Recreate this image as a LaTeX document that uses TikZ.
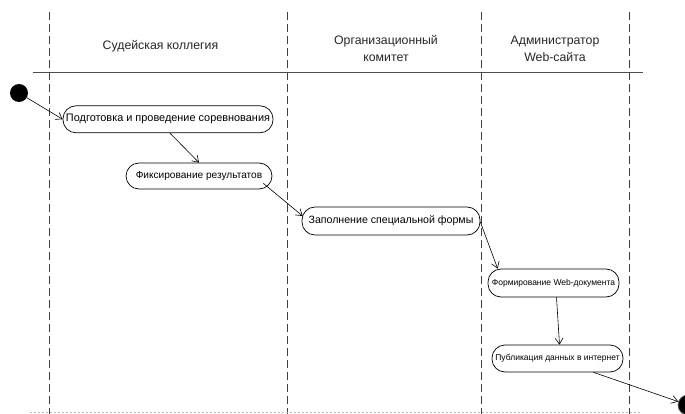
\documentclass[tikz,border=0pt]{standalone}
\usepackage{fontspec}
\setmainfont{Liberation Sans}
\usetikzlibrary{arrows.meta}
\begin{document}
\begin{tikzpicture}[x=1pt,y=-1pt,
  lane/.style={draw=black!75, line width=0.9pt, dash pattern=on 8pt off 4pt},
  act/.style={draw=black, line width=0.7pt, rounded corners=13pt, inner sep=0pt, align=center},
  flow/.style={draw=black, line width=0.6pt, -{Straight Barb[length=6pt,width=8pt]}},
  head/.style={align=center, font=\fontsize{12.3}{17}\selectfont, text=black!85},
  ]
\useasboundingbox (0,0) rectangle (685,414);
% swimlane separators
\coordinate (l1t) at (49,12);   \coordinate (l1b) at (49,414);
\coordinate (l2t) at (287.7,12);\coordinate (l2b) at (287.7,414);
\coordinate (l3t) at (481.7,12);\coordinate (l3b) at (481.7,414);
\coordinate (l4t) at (629,12);  \coordinate (l4b) at (629,414);
\draw[lane] (l1t) -- (l1b);
\draw[lane] (l2t) -- (l2b);
\draw[lane] (l3t) -- (l3b);
\draw[lane] (l4t) -- (l4b);
\coordinate (hl) at (33,72.7); \coordinate (hr) at (643,72.7);
\draw[black!70, line width=1.1pt] (hl) -- (hr);
\coordinate (bl) at (30,412.8); \coordinate (br) at (640,412.8);
\draw[black!25, line width=0.8pt, dash pattern=on 2pt off 2pt] (bl) -- (br);
% headers
\node[head] (h1) at (160.5,46.7) {Судейская коллегия};
\node[head] (h2) at (386,48.5) {Организационный\\комитет};
\node[head] (h3) at (555,48.5) {Администратор\\Web-сайта};
% activities
\node[act, minimum width=210pt, minimum height=27pt, font=\fontsize{10.9}{12}\selectfont] (n1) at (168,119.3) {Подготовка и проведение соревнования};
\node[act, minimum width=146pt, minimum height=26pt, font=\fontsize{10.1}{12}\selectfont] (n2) at (199,176) {Фиксирование результатов};
\node[act, minimum width=178pt, minimum height=28pt, font=\fontsize{10.6}{12}\selectfont] (n3) at (391,221) {Заполнение специальной формы};
\node[act, minimum width=131pt, minimum height=28pt, font=\fontsize{8.5}{10}\selectfont] (n4) at (553.5,283) {Формирование Web-документа};
\node[act, minimum width=131pt, minimum height=27pt, font=\fontsize{8.5}{10}\selectfont] (n5) at (557.5,358.5) {Публикация данных в интернет};
% start / end
\node[circle, fill=black, minimum size=18pt, inner sep=0pt] (start) at (19,93) {};
\node[circle, fill=black, draw=black!60, line width=0.8pt, minimum size=20pt, inner sep=0pt] (end) at (688,405) {};
% flows
\draw[flow] (start) -- (n1.west);
\draw[flow] ([xshift=2pt]n1.south) -- (n2.north);
\draw[flow] ([xshift=-9pt,yshift=6pt]n2.south east) -- ([xshift=1pt,yshift=5pt]n3.west);
\draw[flow] ([yshift=-1pt]n3.east) -- ([xshift=10pt]n4.north west);
\draw[flow] ([xshift=3pt]n4.south) -- ([xshift=2pt]n5.north);
\draw[flow] ([xshift=36pt]n5.south) -- (end);
\end{tikzpicture}
\end{document}
